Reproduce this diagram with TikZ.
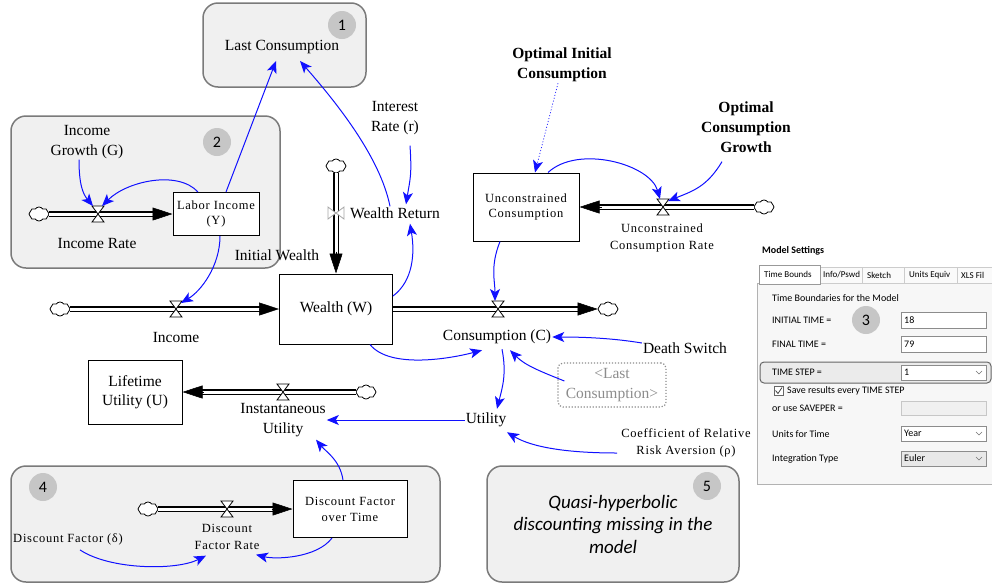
\documentclass[tikz,border=0pt]{standalone}
\usepackage{fontspec}
\setmainfont{Liberation Serif}
\newfontfamily\smallvar[LetterSpace=6]{Liberation Serif}
\newfontfamily\uifont{Carlito}
\usepackage{tikz}
\usetikzlibrary{shapes,arrows.meta,positioning}
\definecolor{grpfill}{HTML}{F0F0F0}
\definecolor{grpline}{HTML}{7A7A7A}
\definecolor{numfill}{HTML}{C6C6C6}
\definecolor{linkblue}{HTML}{1010FF}
\tikzset{
  valve/.pic={\draw[fill=white, line width=0.8pt] (-6,-8) -- (6,-8) -- (-6,8) -- (6,8) -- cycle;},
  valveside/.pic={\draw[fill=white, draw=black!35, line width=0.8pt] (-8,-6) -- (-8,6) -- (8,-6) -- (8,6) -- cycle;}
}

\begin{document}
\begin{tikzpicture}[x=1pt, y=-1pt, >={Stealth[length=12pt,width=10pt,inset=3pt]},
    grp/.style={draw=grpline, line width=1.5pt, fill=grpfill, rounded corners=15pt},
    num/.style={circle, fill=numfill, minimum size=28pt, inner sep=0pt, font=\uifont\fontsize{16}{16}\selectfont},
    stock/.style={rectangle, draw, line width=1pt, fill=white, align=center, inner sep=2pt},
    var/.style={align=center, inner sep=1pt, font=\fontsize{15.5}{19.5}\selectfont},
    svar/.style={align=center, inner sep=1pt, font=\smallvar\fontsize{12.5}{16.5}\selectfont},
    bvar/.style={align=center, inner sep=1pt, font=\bfseries\fontsize{15.5}{20}\selectfont},
    cloudy/.style={cloud, cloud puffs=8, cloud puff arc=110, aspect=1.4, draw, fill=white, line width=0.8pt, minimum width=20pt, minimum height=14pt, inner sep=0pt},
    pipe/.style={draw=black, double=white, double distance=3pt, line width=1.1pt, shorten >=10pt},
    flowtip/.style={-{Triangle[length=20pt,width=13pt]}, line width=0.5pt},
    link/.style={->, draw=linkblue, line width=1pt},
    ui/.style={font=\uifont\fontsize{10}{12}\selectfont, inner sep=0pt, anchor=west},
    tab/.style={ui, font=\uifont\fontsize{9}{11}\selectfont},
    uibox/.style={draw=black!45, fill=white, line width=0.6pt}]
    \useasboundingbox (0,0) rectangle (992,584);

    \draw[grp] (203,3) rectangle (366,87);
    \draw[grp] (11,116) rectangle (280,268);
    \draw[grp] (11,466) rectangle (440,582);
    \draw[grp] (487,466) rectangle (739,582);
    \node[num] (n1) at (342,25) {1};
    \node[num] (n2) at (217,142) {2};
    \node[num] (n4) at (43,487) {4};
    \node[num] (n5) at (707,486) {5};
    \node[align=center, font=\uifont\itshape\fontsize{19}{22.5}\selectfont] (qhd) at (613,524) {Quasi-hyperbolic\\discounting missing in the\\model};

    \node[stock, minimum width=113pt, minimum height=70pt, font=\fontsize{15.5}{19.5}\selectfont] (wealth) at (336,309) {Wealth (W)};
    \node[stock, minimum width=86pt, minimum height=43pt, font=\smallvar\fontsize{12.5}{15}\selectfont] (labor) at (216,214) {Labor Income\\(Y)};
    \node[stock, minimum width=106pt, minimum height=68pt, font=\smallvar\fontsize{12.5}{15}\selectfont] (ucons) at (526,207) {Unconstrained\\Consumption};
    \node[stock, minimum width=94pt, minimum height=64pt, font=\fontsize{15.5}{19}\selectfont] (lifeu) at (135,392) {Lifetime\\Utility (U)};
    \node[stock, minimum width=114pt, minimum height=57pt, font=\smallvar\fontsize{12.5}{16}\selectfont] (dfot) at (350,509) {Discount Factor\\over Time};

    \node[cloudy] (clinc) at (60,309) {};
    \node[cloudy] (clwr) at (336,166) {};
    \node[cloudy] (clc) at (608,309) {};
    \node[cloudy] (clir) at (39,214) {};
    \node[cloudy] (clu) at (764,207) {};
    \node[cloudy] (clinst) at (366,392) {};
    \node[cloudy] (cldf) at (148,509) {};

    \coordinate (v1) at (176,309);
    \coordinate (v2) at (98,214);
    \coordinate (v3) at (498,309);
    \coordinate (v4) at (336,213);
    \coordinate (v5) at (663,207);
    \coordinate (v6) at (283,392);
    \coordinate (v7) at (227,509);

    \draw[pipe] (clinc) -- (wealth);
    \draw[pipe] (clwr) -- (wealth);
    \draw[pipe] (wealth) -- (clc);
    \draw[pipe] (clir) -- (labor);
    \draw[pipe] (clu) -- (ucons);
    \draw[pipe] (clinst) -- (lifeu);
    \draw[pipe] (cldf) -- (dfot);
    \draw[flowtip] ([xshift=-20pt]wealth.west) -- (wealth.west);
    \draw[flowtip] ([yshift=22pt]wealth.north) -- (wealth.north);
    \draw[flowtip] ([xshift=-20pt]clc.west) -- (clc.west);
    \draw[flowtip] ([xshift=-20pt]labor.west) -- (labor.west);
    \draw[flowtip] ([xshift=22pt]ucons.east) -- (ucons.east);
    \draw[flowtip] ([xshift=21pt]lifeu.east) -- (lifeu.east);
    \draw[flowtip] ([xshift=-21pt]dfot.west) -- (dfot.west);
    \pic at (v1) {valve};
    \pic at (v2) {valve};
    \pic at (v3) {valve};
    \pic at (v4) {valveside};
    \pic at (v5) {valve};
    \pic at (v6) {valve};
    \pic at (v7) {valve};

    \node[var] (lastc) at (282,47) {Last Consumption};
    \node[var] (icg) at (87,142) {Income\\Growth (G)};
    \node[var] (irate) at (97,243) {Income Rate};
    \node[var] (iniw) at (277,255) {Initial Wealth};
    \node[var] (inc) at (176,337) {Income};
    \node[var] (intr) at (395,118) {Interest\\Rate (r)};
    \node[var] (wret) at (395,213) {Wealth Return};
    \node[bvar] (oic) at (562,65) {Optimal Initial\\Consumption};
    \node[bvar] (ocg) at (746,127) {Optimal\\Consumption\\Growth};
    \node[svar] (ucr) at (662,238) {Unconstrained\\Consumption Rate};
    \node[var] (cons) at (497,337) {Consumption (C)};
    \node[var] (dsw) at (685,348) {Death Switch};
    \node[var, draw=black!45, dash pattern=on 1.2pt off 1.8pt, line width=1.2pt, rounded corners=5pt, text=black!45, minimum width=108pt, minimum height=44pt] (lcs) at (612,385) {<Last\\Consumption>};
    \node[var] (util) at (486,420) {Utility};
    \node[svar] (coef) at (686,443) {Coefficient of Relative\\Risk Aversion (ρ)};
    \node[var] (instu) at (283,420) {Instantaneous\\Utility};
    \node[svar] (dfr) at (227,537) {Discount\\Factor Rate};
    \node[svar] (dfd) at (68,539) {Discount Factor (δ)};

    \draw[link] ([xshift=-5pt]wret.north) .. controls +(-10,-50) and +(35,40) .. ([xshift=18pt,yshift=-6pt]lastc.south);
    \draw[link] ([xshift=10pt]labor.north) -- ([xshift=-6pt,yshift=-6pt]lastc.south);
    \draw[link] ([xshift=-8pt]icg.south) .. controls +(0,25) and +(-10,-12) .. ([shift={(-5,-8)}]v2);
    \draw[link] ([xshift=-18pt]labor.north) .. controls +(-20,-22) and +(25,-25) .. ([shift={(4,-8)}]v2);
    \draw[link] ([xshift=4pt]labor.south) .. controls +(0,30) and +(20,-12) .. ([shift={(5,-6)}]v1);
    \draw[link] ([xshift=15pt,yshift=-10pt]intr.south) .. controls +(2,30) and +(4,-25) .. ([xshift=11pt,yshift=2pt]wret.north);
    \draw[link] ([yshift=13pt]wealth.east) .. controls +(20,-15) and +(5,30) .. ([xshift=15pt,yshift=-4pt]wret.south);
    \draw[link] ([xshift=34pt]wealth.south) .. controls +(20,25) and +(-30,8) .. ([xshift=-15pt,yshift=-5pt]cons.south);
    \draw[link, dotted, line width=0.7pt] ([xshift=-4pt]oic.south) -- ([xshift=9pt]ucons.north);
    \draw[link] ([xshift=22pt]ucons.north) .. controls +(30,-28) and +(-10,-35) .. ([shift={(-3,-8)}]v5);
    \draw[link] ([xshift=-24pt,yshift=-8pt]ocg.south) .. controls +(-15,25) and +(25,-10) .. ([shift={(5,-6)}]v5);
    \draw[link] ([xshift=-26pt]ucons.south) .. controls +(-10,25) and +(0,-20) .. ([shift={(-3,-8)}]v3);
    \draw[link] ([yshift=5pt]dsw.west) .. controls +(-30,-5) and +(30,0) .. (cons.east);
    \draw[link] ([xshift=7pt,yshift=4pt]lcs.west) .. controls +(-25,-10) and +(15,15) .. ([xshift=13pt,yshift=-5pt]cons.south);
    \draw[link] ([xshift=5pt,yshift=-4pt]cons.south) .. controls +(5,25) and +(5,-20) .. ([xshift=11pt,yshift=3pt]util.north);
    \draw[link] ([xshift=-3pt,yshift=-10pt]coef.west) .. controls +(-50,0) and +(25,15) .. ([xshift=21pt,yshift=-4pt]util.south);
    \draw[link] (util) -- (instu);
    \draw[link] ([xshift=-7pt]dfot.north) .. controls +(-3,-20) and +(10,12) .. ([xshift=33pt,yshift=-2pt]instu.south);
    \draw[link] ([xshift=12pt,yshift=-4pt]dfd.south) .. controls +(30,20) and +(-30,15) .. ([xshift=-21pt,yshift=-5pt]dfr.south);
    \draw[link] ([xshift=-18pt]dfot.south) .. controls +(-15,20) and +(20,5) .. ([xshift=29pt,yshift=-4pt]dfr.south);

    \fill[white] (757,238) rectangle (992,484);
    \node[ui, font=\uifont\bfseries\fontsize{10}{12}\selectfont] (msttl) at (762,251) {Model Settings};
    \draw[black!30, fill=black!3] (757,283) rectangle (992,484);
    \draw[black!20, fill=black!2] (820,267) rectangle (862,283) (862,267) rectangle (904,283) (904,267) rectangle (957,283) (957,267) rectangle (995,283);
    \draw[black!40, fill=white] (759,265) rectangle (820,284);
    \node[tab] (tab1) at (764,274) {Time Bounds};
    \node[tab] (tab2) at (823,275) {Info/Pswd};
    \node[tab] (tab3) at (867,275) {Sketch};
    \node[tab] (tab4) at (909,275) {Units Equiv};
    \node[tab] (tab5) at (961,275) {XLS Fil};
    \node[ui] (tbm) at (772,298) {Time Boundaries for the Model};
    \node[ui] (itl) at (772,320) {INITIAL TIME =};
    \draw[uibox] (901,312) rectangle (986,328);
    \node[ui] (itv) at (904,320) {18};
    \node[ui] (ftl) at (772,344) {FINAL TIME =};
    \draw[uibox] (901,336) rectangle (986,352);
    \node[ui] (ftv) at (904,344) {79};
    \draw[draw=black!60, fill=black!8, rounded corners=4pt, line width=1pt] (760,362) rectangle (991,383);
    \node[ui] (tsl) at (772,372) {TIME STEP =};
    \draw[uibox] (901,365) rectangle (986,380);
    \node[ui] (tsv) at (904,372) {1};
    \draw[black!55] (976,371) -- (979,374) -- (982,371);
    \draw[black!60, fill=white] (774,386) rectangle (783,395);
    \draw[black!75, line width=0.8pt] (775.5,390.5) -- (778,393.5) -- (782,387.5);
    \node[ui] (svr) at (787,391) {Save results every TIME STEP};
    \node[ui] (spl) at (772,408) {or use SAVEPER =};
    \draw[black!22, fill=black!6] (901,401) rectangle (986,415);
    \node[ui] (uft) at (772,434) {Units for Time};
    \draw[uibox] (901,426) rectangle (986,441);
    \node[ui] (ufv) at (904,433) {Year};
    \draw[black!55] (976,432) -- (979,435) -- (982,432);
    \node[ui] (itp) at (772,459) {Integration Type};
    \draw[uibox, fill=black!9] (901,451) rectangle (986,466);
    \node[ui] (itpv) at (904,458) {Euler};
    \draw[black!55] (976,457) -- (979,460) -- (982,457);
    \node[num] (n3) at (866,320) {3};
\end{tikzpicture}
\end{document}
